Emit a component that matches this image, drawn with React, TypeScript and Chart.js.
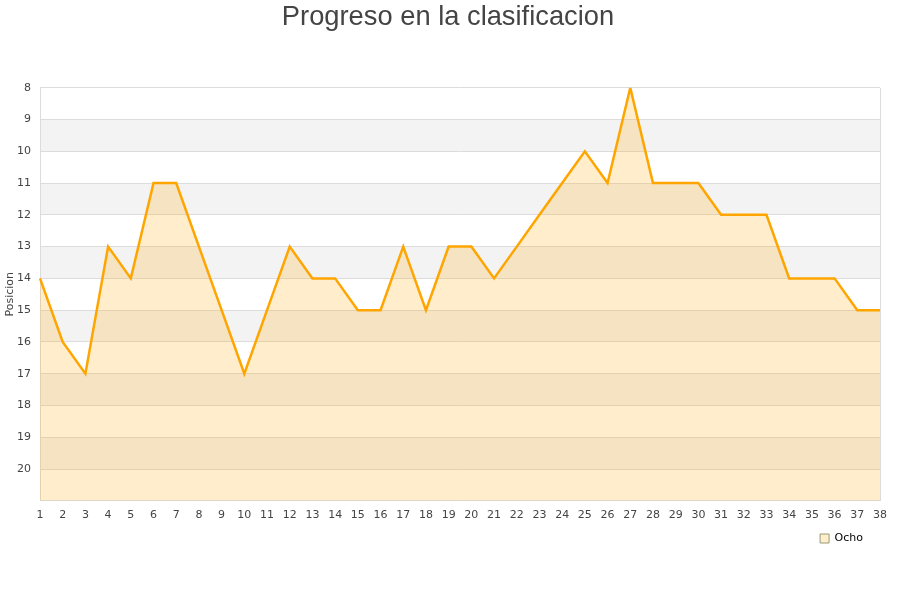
import React, { useEffect, useRef } from "react";
import { Chart, registerables } from "chart.js";

Chart.register(...registerables);

const jornadas: string[] = Array.from({ length: 38 }, (_, i) => String(i + 1));
const posiciones: number[] = [
  14, 16, 17, 13, 14, 11, 11, 13, 15, 17,
  15, 13, 14, 14, 15, 15, 13, 15, 13, 13,
  14, 13, 12, 11, 10, 11, 8, 11, 11, 11,
  12, 12, 12, 14, 14, 14, 15, 15,
];
const serieNombre = "Ocho";
const tituloTexto = "Progreso en la clasificacion";
const ejeYTitulo = "Posicion";
const yMin = 8;
const yMax = 21;

const bandsPlugin = {
  id: "bands",
  beforeDraw(chart: any) {
    const { ctx, chartArea, scales } = chart;
    const y = scales.y;
    ctx.save();
    ctx.fillStyle = "#f3f3f3";
    for (let v = yMin + 1; v < yMax; v += 2) {
      const top = y.getPixelForValue(v);
      const bottom = y.getPixelForValue(v + 1);
      ctx.fillRect(chartArea.left, top, chartArea.right - chartArea.left, bottom - top);
    }
    ctx.strokeStyle = "#dcdcdc";
    ctx.lineWidth = 1;
    ctx.beginPath();
    ctx.moveTo(Math.round(chartArea.right) + 0.5, chartArea.top);
    ctx.lineTo(Math.round(chartArea.right) + 0.5, chartArea.bottom);
    ctx.stroke();
    ctx.restore();
  },
};

const legendShiftPlugin = {
  id: "legendShift",
  afterLayout(chart: any) {
    const lg = chart.legend;
    if (lg && Array.isArray(lg.lineWidths)) {
      lg.lineWidths = lg.lineWidths.map((w: number) => w + 14);
    }
  },
};

export default function App() {
  const ref = useRef<HTMLCanvasElement | null>(null);
  useEffect(() => {
    if (!ref.current) return;
    const chart = new Chart(ref.current, {
      type: "line",
      data: {
        labels: jornadas,
        datasets: [
          {
            label: serieNombre,
            data: posiciones,
            borderColor: "#ffa500",
            backgroundColor: "rgba(255,165,0,0.2)",
            borderWidth: 2.5,
            pointRadius: 0,
            tension: 0,
            fill: { value: yMax },
          },
        ],
      },
      options: {
        animation: false,
        responsive: true,
        maintainAspectRatio: false,
        layout: { padding: { left: 16, right: 20, top: 0, bottom: 46 } },
        plugins: {
          title: {
            display: true,
            text: tituloTexto,
            color: "#444444",
            font: { family: "'Liberation Sans', Arial, sans-serif", size: 27.3, weight: "normal" },
            padding: { top: 1, bottom: 54 },
          },
          legend: {
            position: "bottom",
            align: "end",
            labels: {
              boxWidth: 9,
              boxHeight: 9,
              padding: 3,
              color: "#222222",
              font: { family: "'DejaVu Sans', sans-serif", size: 11 },
              generateLabels: () => [
                {
                  text: serieNombre,
                  fillStyle: "rgba(255,165,0,0.2)",
                  strokeStyle: "#999977",
                  lineWidth: 1,
                  hidden: false,
                  datasetIndex: 0,
                },
              ],
            },
          },
          tooltip: { enabled: false },
        },
        scales: {
          x: {
            grid: { display: false, drawTicks: false },
            border: { display: true, color: "#dcdcdc" },
            ticks: {
              color: "#444444",
              font: { family: "'DejaVu Sans', sans-serif", size: 11 },
              padding: 8,
              maxRotation: 0,
              autoSkip: false,
            },
          },
          y: {
            reverse: true,
            min: yMin,
            max: yMax,
            afterFit: (s: any) => {
              s.width = 24;
            },
            grid: { color: "#dcdcdc", drawTicks: false },
            border: { display: true, color: "#dcdcdc" },
            ticks: {
              stepSize: 1,
              color: "#444444",
              font: { family: "'DejaVu Sans', sans-serif", size: 11 },
              padding: 9,
              callback: (v: any) => (v === yMax ? "" : String(v)),
            },
            title: {
              display: true,
              text: ejeYTitulo,
              color: "#444444",
              font: { family: "'DejaVu Sans', sans-serif", size: 11 },
              padding: { top: -12, bottom: 0 },
            },
          },
        },
      },
      plugins: [bandsPlugin, legendShiftPlugin],
    });
    return () => chart.destroy();
  }, []);
  return (
    <div style={{ position: "fixed", left: 0, top: 0, width: 900, height: 600, background: "#fff" }}>
      <canvas ref={ref} />
    </div>
  );
}
